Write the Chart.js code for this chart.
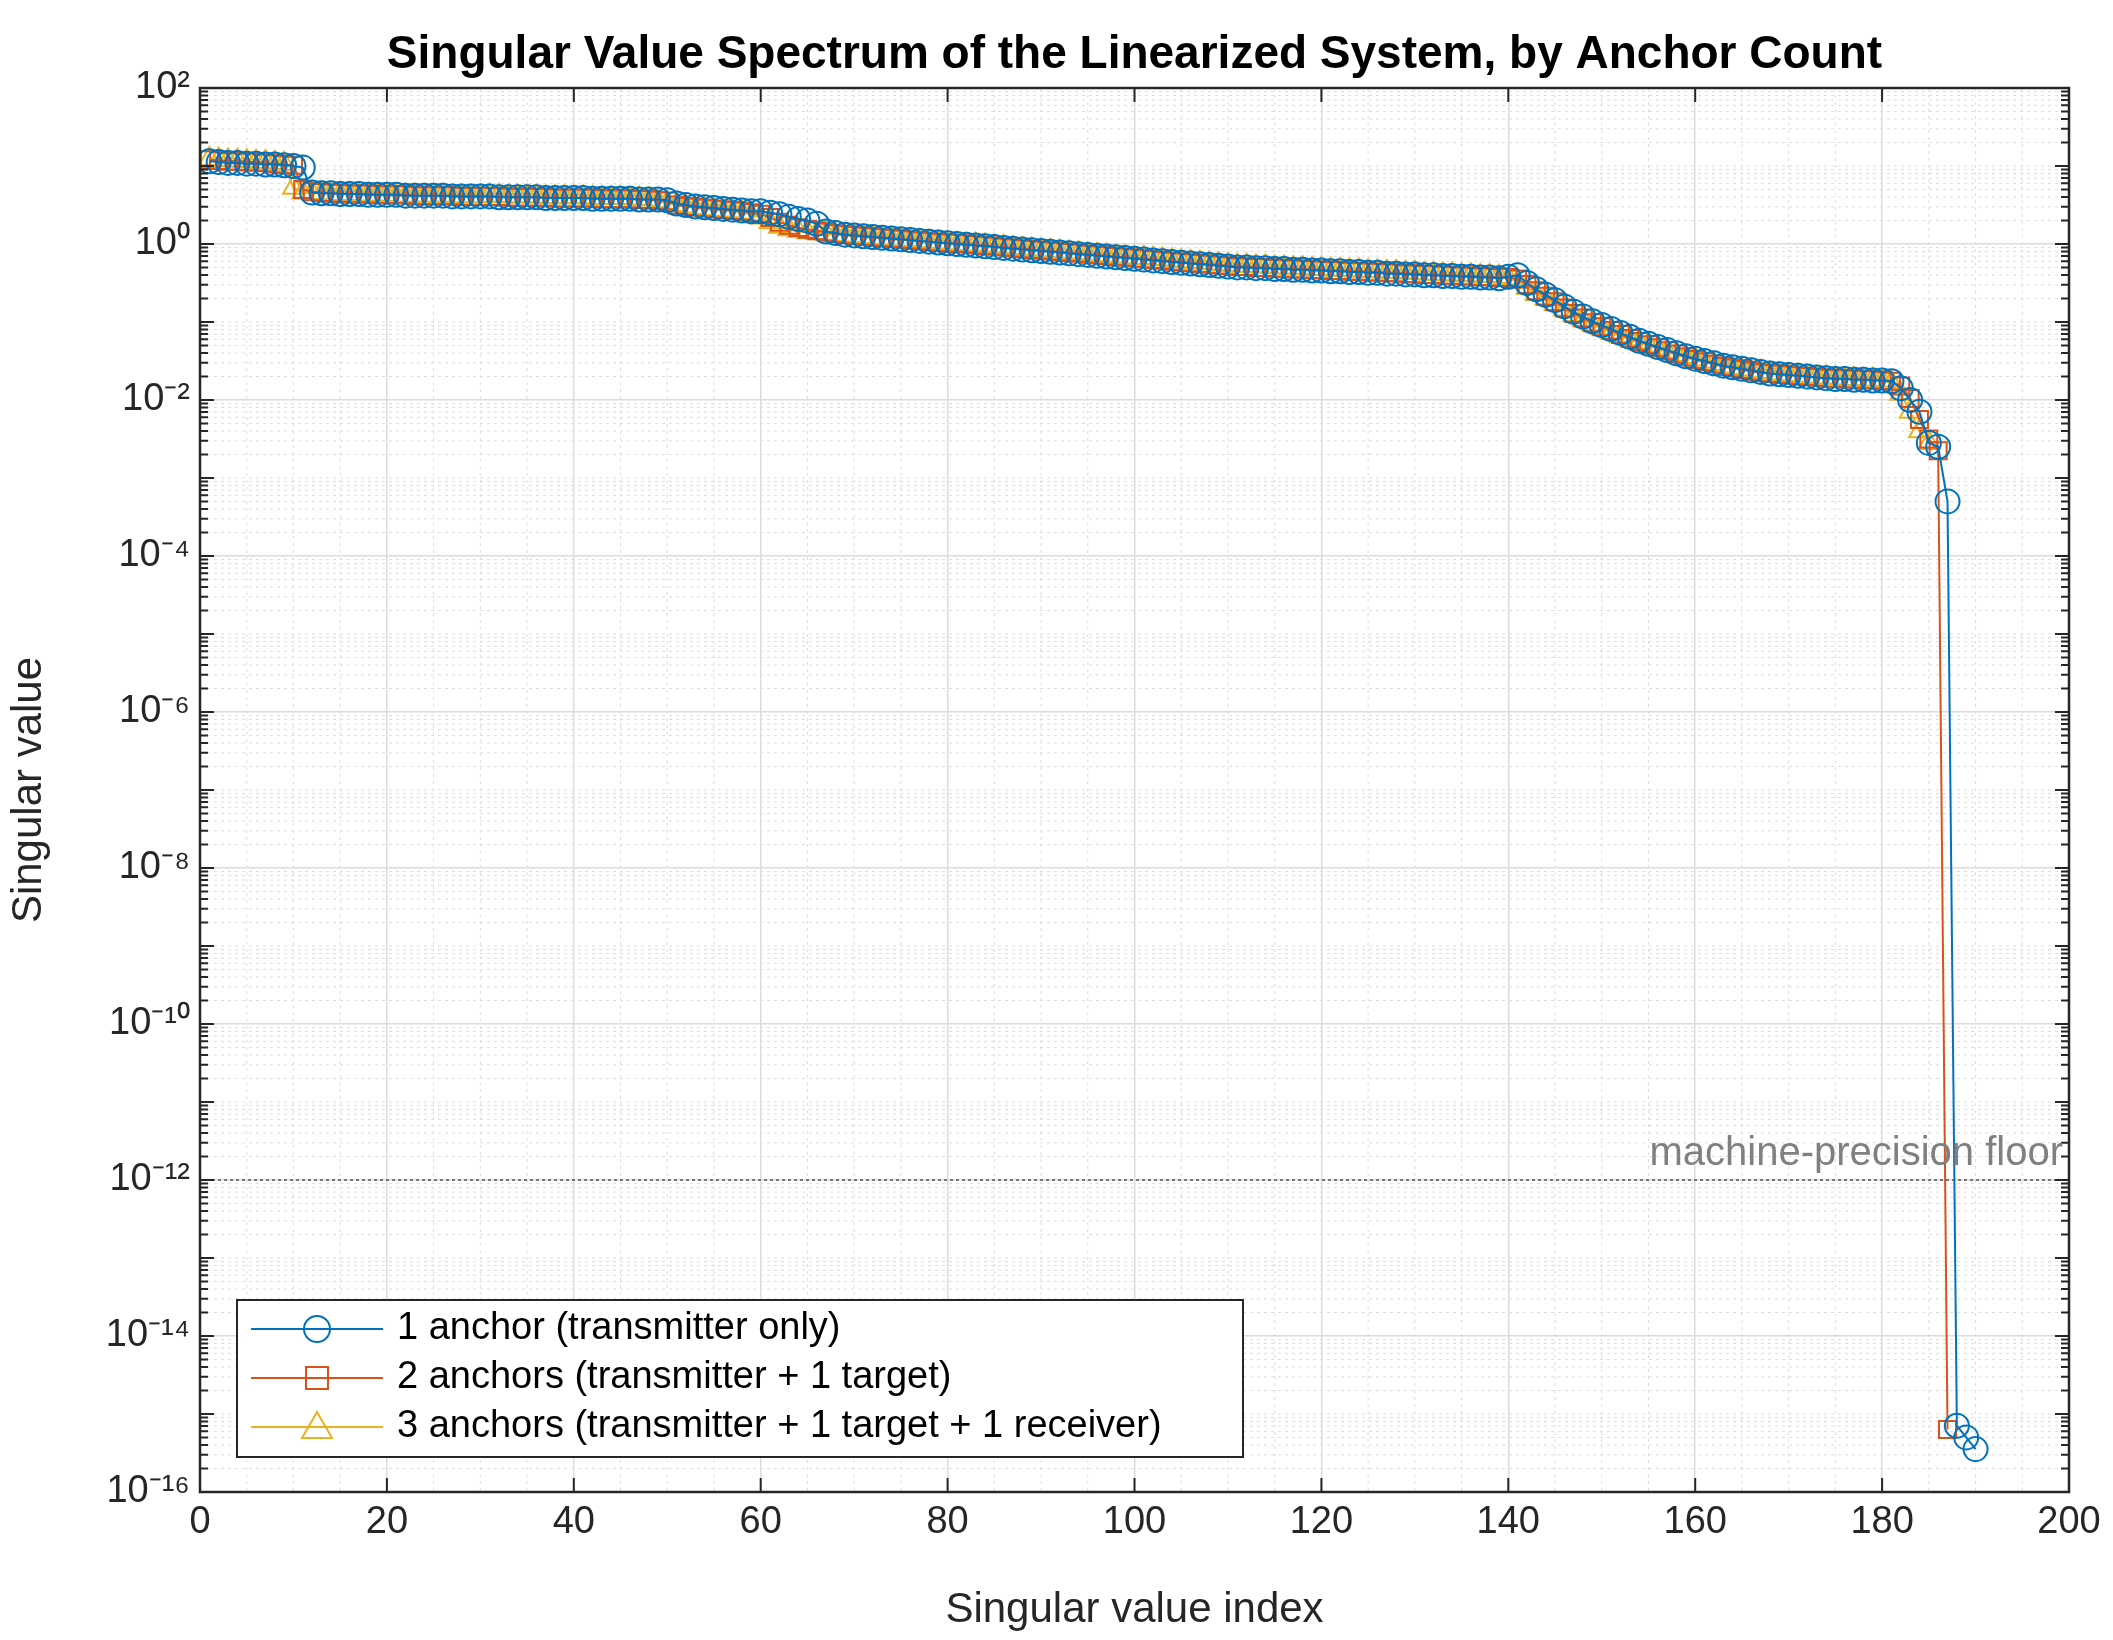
<!DOCTYPE html>
<html>
<head>
<meta charset="utf-8">
<script src="https://cdn.jsdelivr.net/npm/chart.js@4"></script>
<style>
  body { margin: 0; background: #fff; }
</style>
</head>
<body>
<canvas id="svChart" width="2113" height="1640"></canvas>
<script>
// log10 of singular values
const logSv1 = [
  1.06,1.05,1.04,1.04,1.03,1.03,1.02,1.02,1.01,1.00,0.98,
  0.66,0.65,0.65,0.64,0.64,0.64,0.63,0.63,0.63,0.63,0.62,0.62,0.62,0.62,0.62,0.61,0.61,0.61,0.61,
  0.61,0.60,0.60,0.60,0.60,0.60,0.59,0.59,0.59,0.59,0.59,0.58,0.58,0.58,0.58,0.58,0.57,0.57,0.57,0.56,
  0.52,0.50,0.48,0.47,0.46,0.45,0.44,0.43,0.42,0.42,0.40,0.38,0.35,0.32,0.30,0.26,
  0.16,0.14,0.12,0.11,0.10,0.09,0.08,0.07,0.06,0.05,0.04,0.03,0.02,0.01,
  0.00,-0.01,-0.02,-0.03,-0.04,-0.05,-0.06,-0.07,-0.08,-0.09,-0.10,-0.11,-0.12,-0.13,-0.14,-0.15,-0.16,-0.17,-0.18,-0.19,
  -0.20,-0.21,-0.22,-0.23,-0.24,-0.25,-0.26,-0.27,-0.28,-0.29,-0.30,-0.30,-0.31,-0.31,-0.32,-0.32,-0.33,-0.33,-0.34,-0.34,
  -0.35,-0.35,-0.36,-0.36,-0.37,-0.37,-0.38,-0.38,-0.39,-0.39,-0.40,-0.40,-0.41,-0.41,-0.42,-0.42,-0.43,-0.43,-0.44,-0.42,-0.40,
  -0.50,-0.58,-0.65,-0.72,-0.80,-0.87,-0.93,-0.99,-1.04,-1.09,-1.14,-1.19,-1.24,-1.28,-1.32,-1.36,-1.40,-1.44,-1.47,
  -1.50,-1.53,-1.56,-1.58,-1.60,-1.62,-1.64,-1.66,-1.67,-1.68,-1.69,-1.70,-1.71,-1.72,-1.73,-1.73,-1.74,-1.74,-1.75,-1.75,-1.76,
  -1.85,-2.00,-2.15,-2.55,-2.60,-3.30,-15.15,-15.30,-15.45
];
const logSv2 = [
  1.08,1.07,1.06,1.06,1.05,1.05,1.04,1.03,1.02,1.01,
  0.70,0.67,0.66,0.65,0.65,0.64,0.64,0.64,0.63,0.63,0.63,0.63,0.62,0.62,0.62,0.62,0.62,0.61,0.61,0.61,
  0.61,0.61,0.60,0.60,0.60,0.60,0.60,0.59,0.59,0.59,0.59,0.59,0.58,0.58,0.58,0.58,0.57,0.57,0.56,0.55,
  0.50,0.48,0.47,0.46,0.45,0.44,0.43,0.42,0.40,0.38,0.34,0.28,0.24,0.21,0.19,0.17,
  0.15,0.13,0.12,0.11,0.10,0.09,0.08,0.07,0.06,0.05,0.04,0.03,0.02,0.01,
  0.01,0.00,-0.01,-0.02,-0.03,-0.04,-0.05,-0.06,-0.07,-0.08,-0.09,-0.10,-0.11,-0.12,-0.13,-0.14,-0.15,-0.16,-0.17,-0.18,
  -0.19,-0.20,-0.21,-0.22,-0.23,-0.24,-0.25,-0.26,-0.27,-0.28,-0.29,-0.29,-0.30,-0.30,-0.31,-0.31,-0.32,-0.32,-0.33,-0.33,
  -0.34,-0.34,-0.35,-0.35,-0.36,-0.36,-0.37,-0.37,-0.38,-0.38,-0.39,-0.39,-0.40,-0.40,-0.41,-0.41,-0.42,-0.42,-0.43,-0.43,-0.45,
  -0.52,-0.60,-0.67,-0.74,-0.82,-0.89,-0.95,-1.01,-1.06,-1.11,-1.16,-1.21,-1.25,-1.29,-1.33,-1.37,-1.41,-1.45,-1.48,
  -1.51,-1.54,-1.57,-1.59,-1.61,-1.63,-1.65,-1.66,-1.67,-1.68,-1.69,-1.70,-1.71,-1.72,-1.72,-1.73,-1.73,-1.74,-1.74,-1.75,-1.76,
  -1.82,-1.98,-2.25,-2.50,-2.65,-15.20
];
const logSv3 = [
  1.09,1.08,1.07,1.07,1.06,1.05,1.05,1.04,1.03,
  0.72,0.66,0.65,0.65,0.64,0.64,0.64,0.63,0.63,0.63,0.63,0.62,0.62,0.62,0.62,0.62,0.62,0.61,0.61,0.61,0.61,
  0.62,0.62,0.61,0.61,0.61,0.61,0.60,0.60,0.60,0.60,0.60,0.59,0.59,0.59,0.59,0.58,0.58,0.57,0.55,0.53,
  0.50,0.48,0.46,0.45,0.44,0.43,0.42,0.40,0.38,0.34,0.28,0.22,0.19,0.17,0.15,0.14,
  0.13,0.12,0.11,0.10,0.09,0.08,0.07,0.06,0.05,0.05,0.04,0.03,0.02,0.01,
  0.00,-0.01,-0.01,-0.02,-0.03,-0.04,-0.05,-0.06,-0.07,-0.08,-0.09,-0.10,-0.11,-0.12,-0.13,-0.14,-0.15,-0.16,-0.17,-0.18,
  -0.18,-0.19,-0.20,-0.21,-0.22,-0.23,-0.24,-0.25,-0.26,-0.27,-0.28,-0.28,-0.29,-0.29,-0.30,-0.30,-0.31,-0.31,-0.32,-0.32,
  -0.33,-0.33,-0.34,-0.34,-0.35,-0.35,-0.36,-0.36,-0.37,-0.37,-0.38,-0.38,-0.39,-0.39,-0.40,-0.40,-0.41,-0.41,-0.42,-0.44,-0.48,
  -0.56,-0.64,-0.70,-0.77,-0.84,-0.91,-0.97,-1.03,-1.08,-1.13,-1.18,-1.22,-1.26,-1.30,-1.34,-1.38,-1.42,-1.45,-1.48,
  -1.51,-1.54,-1.57,-1.59,-1.61,-1.63,-1.64,-1.66,-1.67,-1.68,-1.69,-1.70,-1.71,-1.71,-1.72,-1.73,-1.73,-1.74,-1.74,-1.75,-1.78,
  -1.92,-2.15,-2.40,-2.55
];
const seriesLabels = [
  '1 anchor (transmitter only)',
  '2 anchors (transmitter + 1 target)',
  '3 anchors (transmitter + 1 target + 1 receiver)'
];
const seriesColors = ['#0072BD', '#D95319', '#EDB120'];
const seriesMarkers = ['circle', 'rect', 'triangle'];
const floorValue = 1e-12;
const floorLabel = 'machine-precision floor';
const yExponents = [-16, -14, -12, -10, -8, -6, -4, -2, 0, 2];
const xTicks = [0, 20, 40, 60, 80, 100, 120, 140, 160, 180, 200];

const FONT = '"Liberation Sans", Arial, sans-serif';
const sup = { '-': '⁻', '0': '⁰', '1': '¹', '2': '²', '4': '⁴', '6': '⁶', '8': '⁸' };
const toSup = n => String(n).split('').map(c => sup[c] || c).join('');

const toPoints = arr => arr.map((v, i) => ({ x: i + 1, y: Math.pow(10, v) }));

const datasets = [logSv1, logSv2, logSv3].map((arr, k) => ({
  label: seriesLabels[k],
  data: toPoints(arr),
  borderColor: seriesColors[k],
  backgroundColor: 'rgba(0,0,0,0)',
  borderWidth: 2,
  pointStyle: seriesMarkers[k],
  pointRadius: 12,
  pointBorderWidth: 2,
  pointBorderColor: seriesColors[k],
  pointBackgroundColor: 'rgba(0,0,0,0)'
}));
datasets.push({
  label: 'floor',
  data: [{ x: 0, y: floorValue }, { x: 200, y: floorValue }],
  borderColor: '#555',
  borderWidth: 1.5,
  borderDash: [3, 3],
  pointRadius: 0
});

const decorations = {
  id: 'decorations',
  beforeDatasetsDraw(chart) {
    const { ctx, chartArea: a, scales: { x, y } } = chart;
    ctx.save();
    ctx.strokeStyle = '#dddddd';
    ctx.lineWidth = 1;
    ctx.setLineDash([3, 4]);
    for (let e = -16; e < 2; e++) {
      for (let m = 1; m < 10; m++) {
        if (m === 1 && e % 2 === 0) continue;
        const py = y.getPixelForValue(m * Math.pow(10, e));
        ctx.beginPath(); ctx.moveTo(a.left, py); ctx.lineTo(a.right, py); ctx.stroke();
      }
    }
    for (let v = 5; v < 200; v += 5) {
      if (v % 20 === 0) continue;
      const px = x.getPixelForValue(v);
      ctx.beginPath(); ctx.moveTo(px, a.top); ctx.lineTo(px, a.bottom); ctx.stroke();
    }
    ctx.restore();
  },
  afterDraw(chart) {
    const { ctx, chartArea: a, scales: { x, y } } = chart;
    ctx.save();
    // axes box and inward ticks
    ctx.strokeStyle = '#262626';
    ctx.lineWidth = 2.5;
    ctx.strokeRect(a.left, a.top, a.right - a.left, a.bottom - a.top);
    ctx.lineWidth = 2;
    xTicks.forEach(v => {
      const px = x.getPixelForValue(v);
      ctx.beginPath(); ctx.moveTo(px, a.bottom); ctx.lineTo(px, a.bottom - 14);
      ctx.moveTo(px, a.top); ctx.lineTo(px, a.top + 14); ctx.stroke();
    });
    for (let e = -16; e <= 2; e++) {
      for (let m = 1; m < 10; m++) {
        const val = m * Math.pow(10, e);
        if (val > 100) break;
        const py = y.getPixelForValue(val);
        const len = m === 1 ? 14 : 8;
        ctx.beginPath(); ctx.moveTo(a.left, py); ctx.lineTo(a.left + len, py);
        ctx.moveTo(a.right, py); ctx.lineTo(a.right - len, py); ctx.stroke();
      }
    }
    // title
    ctx.fillStyle = '#000';
    ctx.font = 'bold 46px ' + FONT;
    ctx.textAlign = 'center';
    ctx.textBaseline = 'bottom';
    ctx.fillText('Singular Value Spectrum of the Linearized System, by Anchor Count', (a.left + a.right) / 2, a.top - 10);
    // floor label
    ctx.fillStyle = '#808080';
    ctx.font = '40px ' + FONT;
    ctx.textAlign = 'right';
    ctx.textBaseline = 'bottom';
    ctx.fillText(floorLabel, a.right - 6, y.getPixelForValue(floorValue) - 6);
    // legend
    const lx = 237, ly = 1300, lw = 1006, lh = 157;
    ctx.fillStyle = '#fff';
    ctx.fillRect(lx, ly, lw, lh);
    ctx.strokeStyle = '#262626';
    ctx.lineWidth = 2;
    ctx.strokeRect(lx, ly, lw, lh);
    ctx.font = '38px ' + FONT;
    ctx.textAlign = 'left';
    ctx.textBaseline = 'middle';
    seriesLabels.forEach((lab, k) => {
      const cy = ly + 29 + k * 49;
      ctx.strokeStyle = seriesColors[k];
      ctx.lineWidth = 2;
      ctx.beginPath(); ctx.moveTo(lx + 14, cy); ctx.lineTo(lx + 146, cy); ctx.stroke();
      const cx = lx + 80;
      ctx.beginPath();
      if (k === 0) ctx.arc(cx, cy, 13, 0, Math.PI * 2);
      else if (k === 1) ctx.rect(cx - 11, cy - 11, 22, 22);
      else { ctx.moveTo(cx, cy - 15); ctx.lineTo(cx + 15, cy + 11); ctx.lineTo(cx - 15, cy + 11); ctx.closePath(); }
      ctx.stroke();
      ctx.fillStyle = '#000';
      ctx.fillText(lab, lx + 160, cy);
    });
    ctx.restore();
  }
};

new Chart(document.getElementById('svChart'), {
  type: 'line',
  data: { datasets },
  options: {
    responsive: false,
    animation: false,
    devicePixelRatio: 1,
    layout: { padding: { top: 88, right: 44, left: 0, bottom: 0 } },
    plugins: { legend: { display: false }, title: { display: false }, tooltip: { enabled: false } },
    scales: {
      x: {
        type: 'linear', min: 0, max: 200,
        afterBuildTicks: s => { s.ticks = xTicks.map(v => ({ value: v })); },
        ticks: { font: { size: 38, family: FONT }, color: '#262626', padding: 8, maxRotation: 0 },
        grid: { color: '#dcdcdc', lineWidth: 1.5, drawTicks: false },
        border: { display: false },
        title: { display: true, text: 'Singular value index', font: { size: 42, family: FONT }, color: '#262626', padding: { top: 2 } },
        afterFit: s => { s.height = 148; }
      },
      y: {
        type: 'logarithmic', min: 1e-16, max: 100,
        afterBuildTicks: s => { s.ticks = yExponents.map(e => ({ value: Math.pow(10, e) })); },
        ticks: {
          font: { size: 38, family: FONT }, color: '#262626', padding: 10,
          callback: v => '10' + toSup(Math.round(Math.log10(v)))
        },
        grid: { color: '#dcdcdc', lineWidth: 1.5, drawTicks: false },
        border: { display: false },
        title: { display: true, text: 'Singular value', font: { size: 42, family: FONT }, color: '#262626', padding: { bottom: 8 } },
        afterFit: s => { s.width = 200; }
      }
    }
  },
  plugins: [decorations]
});
</script>
</body>
</html>
